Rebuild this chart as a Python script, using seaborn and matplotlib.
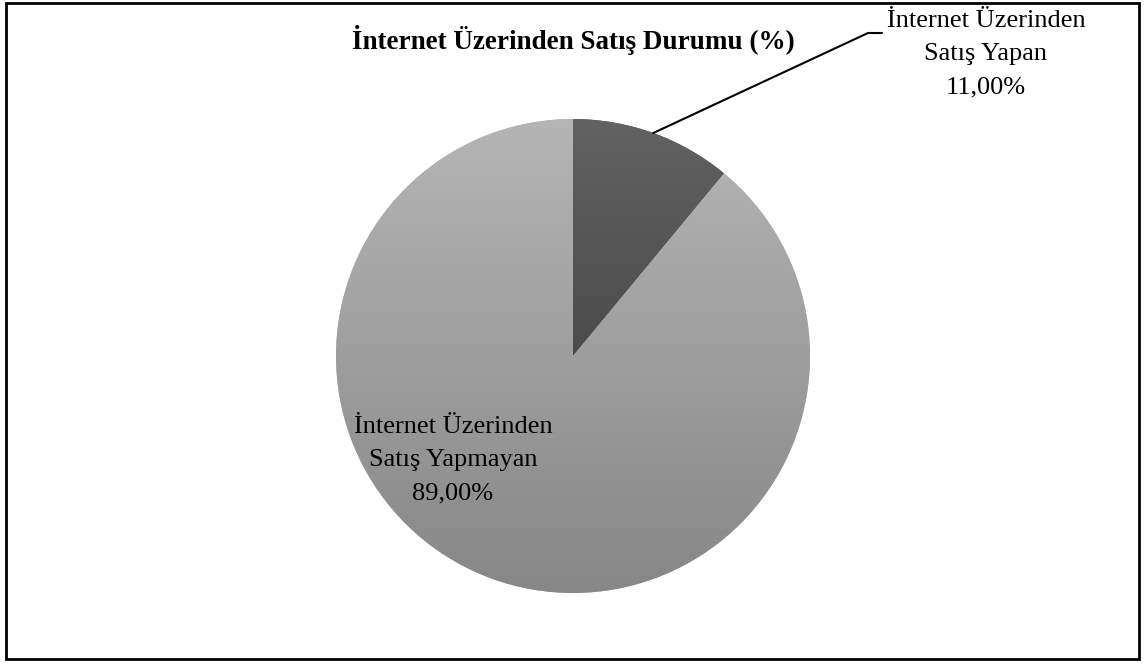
# plot.py
# İnternet üzerinden satış durumu - pasta grafik

import numpy as np
import matplotlib
matplotlib.use("Agg")
import matplotlib.pyplot as plt
import seaborn as sns
from matplotlib.colors import LinearSegmentedColormap
from matplotlib.lines import Line2D
from matplotlib.patches import Rectangle

# -------------------------
# Data
# -------------------------
title = "İnternet Üzerinden Satış Durumu (%)"
categories = ["İnternet Üzerinden\nSatış Yapan", "İnternet Üzerinden\nSatış Yapmayan"]
values = [11.0, 89.0]

# gradient colours (top, bottom) for each slice
slice_colors = [("#626262", "#343434"), ("#b5b5b5", "#878787")]

# -------------------------
# Style
# -------------------------
sns.set_style("white")
plt.rcParams["font.family"] = ["Liberation Serif", "DejaVu Serif"]
plt.rcParams["text.color"] = "black"

W, H = 1144, 664
fig = plt.figure(figsize=(W / 100, H / 100), dpi=100)
ax = fig.add_axes([336 / W, 71 / H, 474 / W, 474 / H])

wedges, _ = ax.pie(
    values,
    startangle=90,
    counterclock=False,
    radius=1,
    colors=[c[0] for c in slice_colors],
    wedgeprops=dict(linewidth=0),
)

# vertical gradient inside each wedge
grad = np.linspace(0, 1, 256).reshape(-1, 1)
for w, (top, bottom) in zip(wedges, slice_colors):
    cmap = LinearSegmentedColormap.from_list("g", [top, bottom])
    im = ax.imshow(grad, extent=(-1, 1, -1, 1), cmap=cmap, aspect="auto",
                   origin="upper", zorder=w.get_zorder() + 0.1)
    im.set_clip_path(w)

ax.set_xlim(-1, 1)
ax.set_ylim(-1, 1)
ax.set_axis_off()

# -------------------------
# Labels
# -------------------------
def fmt(v):
    return f"{v:.2f}".replace(".", ",") + "%"

fig.text(573 / W, 1 - 40 / H, title, fontsize=19.5, weight="bold",
         ha="center", va="center")

fig.text(986 / W, 1 - 54 / H, f"{categories[0]}\n{fmt(values[0])}",
         fontsize=19, ha="center", va="center", linespacing=1.65)

fig.text(453 / W, 1 - 460 / H, f"{categories[1]}\n{fmt(values[1])}",
         fontsize=19, ha="center", va="center", linespacing=1.65)

# leader line from the middle of the small slice
w0 = wedges[0]
mid = np.deg2rad((w0.theta1 + w0.theta2) / 2)
px, py = ax.transData.transform((np.cos(mid), np.sin(mid)))
fx, fy = fig.transFigure.inverted().transform((px, py))
fig.add_artist(Line2D([fx, 868 / W, 882 / W], [fy, 1 - 33 / H, 1 - 33 / H],
                      color="black", linewidth=1.5))

# frame around the chart
fig.add_artist(Rectangle((6 / W, 5 / H), 1133 / W, 656 / H, fill=False,
                         edgecolor="black", linewidth=2))

fig.savefig("out.png", dpi=100)
